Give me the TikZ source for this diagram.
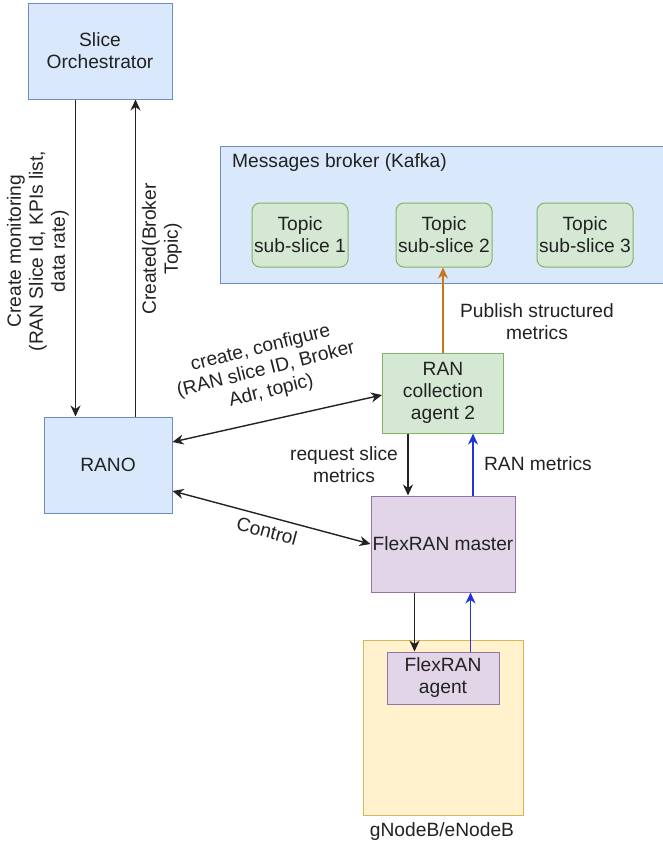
\documentclass[tikz,border=0pt]{standalone}
\usepackage{fontspec}
\setmainfont{Liberation Sans}
\usetikzlibrary{arrows.meta}
\definecolor{txtcol}{HTML}{222222}
\definecolor{bluefill}{HTML}{DAE8FC}
\definecolor{bluedraw}{HTML}{6C8EBF}
\definecolor{greenfill}{HTML}{D5E8D4}
\definecolor{greendraw}{HTML}{82B366}
\definecolor{purplefill}{HTML}{E1D5E7}
\definecolor{purpledraw}{HTML}{9673A6}
\definecolor{yellowfill}{HTML}{FFF2CC}
\definecolor{yellowdraw}{HTML}{D6B656}
\definecolor{pubcol}{HTML}{C8761E}
\definecolor{metcol}{HTML}{2233DD}
\tikzset{
    box/.style={draw,rectangle,line width=1pt,inner sep=0pt,align=center,text=txtcol},
    bluebox/.style={box,fill=bluefill,draw=bluedraw},
    greenbox/.style={box,fill=greenfill,draw=greendraw},
    topicbox/.style={greenbox,rounded corners=8pt,minimum width=96pt,minimum height=64pt},
    purplebox/.style={box,fill=purplefill,draw=purpledraw},
    lbl/.style={align=center,text=txtcol,inner sep=0pt},
    link/.style={->,line width=1.4pt,draw=txtcol},
}
\begin{document}
\begin{tikzpicture}[>={Stealth[length=11pt,width=10pt,inset=3.5pt]},x=1pt,y=-1pt,
                    font=\fontsize{19.2}{22}\selectfont]
                        \useasboundingbox (0,0) rectangle (662,844);
                        \node[bluebox,minimum width=144pt,minimum height=96pt] (orch) at (100,51) {Slice\\Orchestrator};
                        \node[bluebox,minimum width=128pt,minimum height=96pt] (rano) at (108,465) {RANO};
                        \node[bluebox,minimum width=446pt,minimum height=137pt] (broker) at (443,214.5) {};
                        \node[lbl,anchor=west] (brokerlbl) at (232,163) {Messages broker (Kafka)};
                        \node[topicbox] (topic1) at (300,235) {Topic\\sub-slice 1};
                        \node[topicbox] (topic2) at (444,235) {Topic\\sub-slice 2};
                        \node[topicbox] (topic3) at (585,235) {Topic\\sub-slice 3};
                        \node[greenbox,minimum width=121pt,minimum height=80pt] (agent2) at (443,393) {RAN\\collection\\agent 2};
                        \node[purplebox,minimum width=144pt,minimum height=96pt] (master) at (443,544) {FlexRAN master};
                        \node[box,fill=yellowfill,draw=yellowdraw,minimum width=160pt,minimum height=175pt] (gnb) at (443,727.5) {};
                        \node[lbl] (gnblbl) at (442,832) {gNodeB/eNodeB};
                        \node[purplebox,minimum width=112pt,minimum height=52pt] (fagent) at (443,678) {FlexRAN\\agent};

                        \draw[link] ([xshift=48pt]orch.south west) -- ([xshift=32pt]rano.north west);
                        \draw[link] ([xshift=92pt]rano.north west) -- ([xshift=108pt]orch.south west);
                        \node[lbl,rotate=90] (monlbl) at (38,251) {Create monitoring\\(RAN Slice Id, KPIs list,\\data rate)};
                        \node[lbl,rotate=90] (createdlbl) at (162,249) {Created(Broker\\Topic)};

                        \draw[link,<->] ([yshift=23pt]rano.east) -- ([yshift=-2pt]agent2.west);
                        \node[lbl,rotate=14] (cfglbl) at (266,370) {create, configure\\(RAN slice ID, Broker\\Adr, topic)};
                        \draw[link,<->] ([yshift=-26pt]rano.east) -- (master.west);
                        \node[lbl,rotate=-15] (ctrllbl) at (267,531) {Control};

                        \draw[link,draw=pubcol] (agent2.north) -- (agent2.north |- topic2.south);
                        \node[lbl] (publbl) at (537,322) {Publish structured\\metrics};
                        \draw[link] ([xshift=26pt]agent2.south west) -- ([xshift=26pt]agent2.south west |- master.north);
                        \draw[link,draw=metcol] ([xshift=91pt]agent2.south west |- master.north) -- ([xshift=91pt]agent2.south west);
                        \node[lbl] (reqlbl) at (344,465) {request slice\\metrics};
                        \node[lbl] (metlbl) at (538,464) {RAN metrics};

                        \draw[link] ([xshift=44pt]master.south west) -- ([xshift=44pt]master.south west |- fagent.north);
                        \draw[link,draw=metcol] ([xshift=84pt]fagent.north west) -- ([xshift=84pt]fagent.north west |- master.south);
                    \end{tikzpicture}
\end{document}
